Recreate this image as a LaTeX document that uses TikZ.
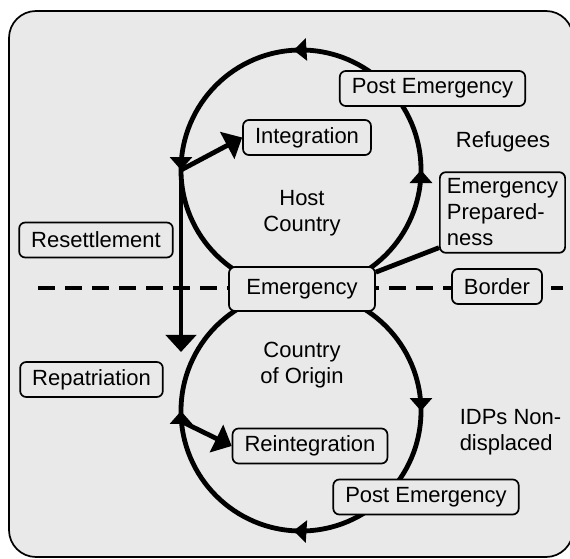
\documentclass[tikz,border=0pt]{standalone}
\usepackage{fontspec}
\setmainfont{Liberation Sans}
\usetikzlibrary{arrows.meta,decorations.markings}
\definecolor{panel}{HTML}{E9E9E9}
\begin{document}
\begin{tikzpicture}[x=0.5pt, y=0.5pt, font=\fontsize{11}{13}\selectfont,
  box/.style={draw, fill=panel, rounded corners=3pt, line width=0.85pt, inner xsep=6pt, minimum height=17.5pt},
  ring/.style={line width=2.4pt, postaction={decorate}, decoration={markings,
    mark=at position 0.25 with {\arrow{Triangle[width=11pt,length=6.5pt]}},
    mark=at position 0.51 with {\arrow{Triangle[width=11pt,length=6.5pt]}},
    mark=at position 0.75 with {\arrow{Triangle[width=11pt,length=6.5pt]}}}},
  arr/.style={line width=2.4pt, -{Triangle[width=15pt,length=8.5pt]}}]
  \useasboundingbox (0,0) rectangle (570,559);
  \draw[fill=panel, line width=0.85pt, rounded corners=13.5pt] (9,2) rectangle (573,548);
  \coordinate (C1) at (301,389);
  \coordinate (C2) at (301,148);
  \coordinate (L1) at ([shift={(180:60pt)}]C1);
  \coordinate (L2) at ([shift={(185:60pt)}]C2);
  \coordinate (T) at (181,207);
  \coordinate (BL) at (38,271);
  \coordinate (BR) at (563,271);
  \draw[ring] (C1) ++(-90:60pt) arc[start angle=-90, end angle=270, radius=60pt];
  \draw[ring] (C2) ++(90:60pt) arc[start angle=90, end angle=-270, radius=60pt];
  \draw[line width=2.2pt, dash pattern=on 8.5pt off 5pt] (BL) -- (BR);
  \node[box] (I) at (307,421.5) {Integration};
  \node[box] (PE) at (432.5,470.5) {Post Emergency};
  \node[] (R) at (503,417) {Refugees};
  \node[box, align=left, inner xsep=3.5pt] (EP) at (502.5,346.5) {Emergency\\Prepared-\\ness};
  \node[box] (RS) at (96,319) {Resettlement};
  \node[box, minimum width=73pt, minimum height=22pt] (E) at (302,270) {Emergency};
  \node[align=center, above of=E, node distance=38pt] (HC) {Host\\Country};
  \node[align=center, below of=E, node distance=38pt] (CO) {Country\\of Origin};
  \node[box] (B) at (497,272.5) {Border};
  \node[box] (RP) at (91.5,179.5) {Repatriation};
  \node[box] (RI) at (310,113) {Reintegration};
  \node[align=left] (IDP) at (510.5,127) {IDPs Non-\\displaced};
  \node[box] (PEo) at (426,62) {Post Emergency};
  \draw[arr] (L1) -- (T);
  \draw[arr] (L1) -- (I.west);
  \draw[arr] (L2) -- (RI.west);
  \draw[line width=2.4pt] ([yshift=-3pt]E.north east) -- ([yshift=3pt]EP.south west);
\end{tikzpicture}
\end{document}
